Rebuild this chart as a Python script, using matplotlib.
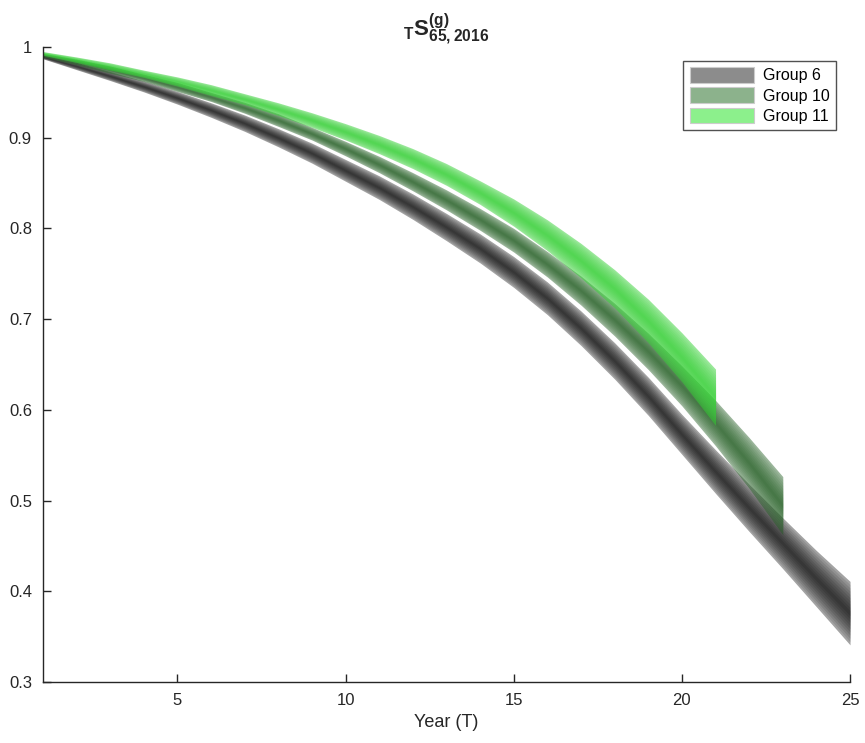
"""
Fan chart of survival probabilities T S(g)_{65,2016} for three groups.
"""

import matplotlib
matplotlib.use("Agg")
import matplotlib.pyplot as plt
from matplotlib.patches import Patch
import numpy as np

plt.rcParams["font.family"] = ["Liberation Sans", "DejaVu Sans"]
plt.rcParams["mathtext.fontset"] = "custom"
plt.rcParams["mathtext.rm"] = "Liberation Sans"
plt.rcParams["mathtext.bf"] = "Liberation Sans:bold"

# ---- data ----
years = list(range(1, 26))

g6_mid = [0.989, 0.979, 0.968, 0.9565, 0.944, 0.9305, 0.916, 0.900, 0.883, 0.864,
          0.845, 0.824, 0.8015, 0.778, 0.752, 0.723, 0.690, 0.654, 0.615, 0.573,
          0.532, 0.492, 0.453, 0.414, 0.376]
g6_half = [0.002, 0.004, 0.005, 0.006, 0.007, 0.008, 0.009, 0.010, 0.011, 0.012,
           0.013, 0.014, 0.015, 0.016, 0.017, 0.018, 0.019, 0.020, 0.021, 0.022,
           0.024, 0.026, 0.028, 0.031, 0.035]

g10_mid = [0.991, 0.9835, 0.975, 0.966, 0.956, 0.945, 0.933, 0.9195, 0.9045, 0.888,
           0.8705, 0.8515, 0.8315, 0.810, 0.787, 0.7605, 0.7315, 0.6995, 0.6645,
           0.6265, 0.5855, 0.5415, 0.4945]
g10_half = [0.002, 0.003, 0.004, 0.004, 0.005, 0.005, 0.006, 0.007, 0.007, 0.008,
            0.009, 0.010, 0.011, 0.012, 0.013, 0.014, 0.016, 0.018, 0.020, 0.022,
            0.025, 0.028, 0.032]

g11_mid = [0.993, 0.986, 0.9785, 0.9705, 0.962, 0.9525, 0.9425, 0.9315, 0.9195,
           0.9065, 0.8925, 0.877, 0.8595, 0.8395, 0.8175, 0.7925, 0.7645, 0.7335,
           0.698, 0.658, 0.614]
g11_half = [0.002, 0.003, 0.004, 0.004, 0.005, 0.006, 0.006, 0.007, 0.008, 0.009,
            0.010, 0.011, 0.012, 0.013, 0.015, 0.017, 0.019, 0.021, 0.024, 0.027,
            0.031]

group_names = ["Group 6", "Group 10", "Group 11"]
legend_colors = ["#8c8c8c", "#8cb28c", "#8cf08c"]
fan_colors = [(0.0, 0.0, 0.0), (0.12, 0.36, 0.12), (0.2, 0.82, 0.2)]
edge_alpha = [0.36, 0.45, 0.5]


def draw_fan(ax, mid, half, color, a0):
    x = np.array(years[:len(mid)])
    mid = np.array(mid)
    half = np.array(half)
    fracs = np.linspace(1.0, 0.08, 10)
    for i, f in enumerate(fracs):
        a = a0 if i == 0 else 0.11
        ax.fill_between(x, mid - f * half, mid + f * half, color=color,
                        alpha=a, linewidth=0)


fig = plt.figure(figsize=(8.65, 7.43), dpi=100)
ax = fig.add_axes([0.0497, 0.082, 0.933, 0.8547])

draw_fan(ax, g6_mid, g6_half, fan_colors[0], edge_alpha[0])
draw_fan(ax, g10_mid, g10_half, fan_colors[1], edge_alpha[1])
draw_fan(ax, g11_mid, g11_half, fan_colors[2], edge_alpha[2])

ax.set_xlim(1, 25)
ax.set_ylim(0.3, 1.0)
ax.set_xticks([5, 10, 15, 20, 25])
ax.set_yticks([0.3, 0.4, 0.5, 0.6, 0.7, 0.8, 0.9, 1.0])
ax.set_yticklabels(["0.3", "0.4", "0.5", "0.6", "0.7", "0.8", "0.9", "1"])
ax.tick_params(direction="in", length=6, width=1, labelsize=12,
               colors="#262626", pad=8)
ax.spines["top"].set_visible(False)
ax.spines["right"].set_visible(False)
for s in ["left", "bottom"]:
    ax.spines[s].set_color("#262626")
    ax.spines[s].set_linewidth(1)

ax.set_xlabel("Year (T)", fontsize=13, color="#262626", labelpad=4)
ax.set_title(r"${}_{\mathbf{T}}\mathbf{S}^{\mathbf{(g)}}_{\mathbf{65,2016}}$",
             fontsize=16, color="#262626", pad=4)

handles = [Patch(facecolor=c, edgecolor="#cccccc", linewidth=0.8)
           for c in legend_colors]
leg = ax.legend(handles, group_names, loc="upper right",
                bbox_to_anchor=(0.983, 0.978), borderaxespad=0,
                fontsize=11.5, frameon=True, fancybox=False,
                handlelength=4.0, handleheight=1.1, handletextpad=0.6,
                labelspacing=0.25, borderpad=0.4)
leg.get_frame().set_edgecolor("#262626")
leg.get_frame().set_linewidth(1)

fig.savefig("out.png", dpi=100)
